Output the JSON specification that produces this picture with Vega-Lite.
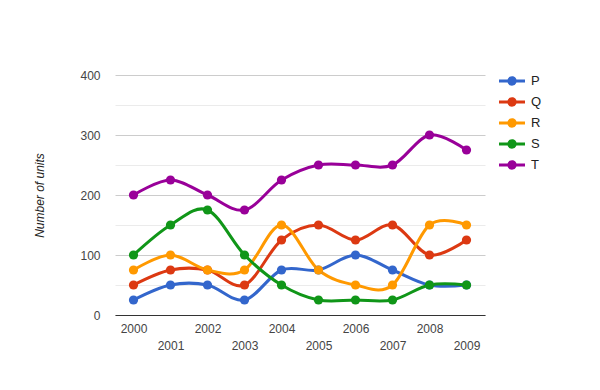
{
  "$schema": "https://vega.github.io/schema/vega-lite/v6.json",
  "width": 370,
  "height": 240,
  "autosize": {"type": "none"},
  "padding": {"left": 115, "top": 75, "right": 115, "bottom": 75},
  "background": "white",
  "data": {"values": [
    {"year": 2000, "series": "P", "units": 25},
    {"year": 2001, "series": "P", "units": 50},
    {"year": 2002, "series": "P", "units": 50},
    {"year": 2003, "series": "P", "units": 25},
    {"year": 2004, "series": "P", "units": 75},
    {"year": 2005, "series": "P", "units": 75},
    {"year": 2006, "series": "P", "units": 100},
    {"year": 2007, "series": "P", "units": 75},
    {"year": 2008, "series": "P", "units": 50},
    {"year": 2009, "series": "P", "units": 50},
    {"year": 2000, "series": "Q", "units": 50},
    {"year": 2001, "series": "Q", "units": 75},
    {"year": 2002, "series": "Q", "units": 75},
    {"year": 2003, "series": "Q", "units": 50},
    {"year": 2004, "series": "Q", "units": 125},
    {"year": 2005, "series": "Q", "units": 150},
    {"year": 2006, "series": "Q", "units": 125},
    {"year": 2007, "series": "Q", "units": 150},
    {"year": 2008, "series": "Q", "units": 100},
    {"year": 2009, "series": "Q", "units": 125},
    {"year": 2000, "series": "R", "units": 75},
    {"year": 2001, "series": "R", "units": 100},
    {"year": 2002, "series": "R", "units": 75},
    {"year": 2003, "series": "R", "units": 75},
    {"year": 2004, "series": "R", "units": 150},
    {"year": 2005, "series": "R", "units": 75},
    {"year": 2006, "series": "R", "units": 50},
    {"year": 2007, "series": "R", "units": 50},
    {"year": 2008, "series": "R", "units": 150},
    {"year": 2009, "series": "R", "units": 150},
    {"year": 2000, "series": "S", "units": 100},
    {"year": 2001, "series": "S", "units": 150},
    {"year": 2002, "series": "S", "units": 175},
    {"year": 2003, "series": "S", "units": 100},
    {"year": 2004, "series": "S", "units": 50},
    {"year": 2005, "series": "S", "units": 25},
    {"year": 2006, "series": "S", "units": 25},
    {"year": 2007, "series": "S", "units": 25},
    {"year": 2008, "series": "S", "units": 50},
    {"year": 2009, "series": "S", "units": 50},
    {"year": 2000, "series": "T", "units": 200},
    {"year": 2001, "series": "T", "units": 225},
    {"year": 2002, "series": "T", "units": 200},
    {"year": 2003, "series": "T", "units": 175},
    {"year": 2004, "series": "T", "units": 225},
    {"year": 2005, "series": "T", "units": 250},
    {"year": 2006, "series": "T", "units": 250},
    {"year": 2007, "series": "T", "units": 250},
    {"year": 2008, "series": "T", "units": 300},
    {"year": 2009, "series": "T", "units": 275}
  ]},
  "encoding": {
    "x": {
      "field": "year", "type": "ordinal",
      "scale": {"type": "point", "padding": 0.5},
      "axis": {
        "title": null, "labelAngle": 0, "labelOverlap": false,
        "ticks": false, "grid": false,
        "domainColor": "#333333", "domainWidth": 1,
        "labelFont": "Liberation Sans", "labelFontSize": 12, "labelColor": "#444444",
        "labelBaseline": "top",
        "labelPadding": {"condition": {"test": "datum.value % 2 === 1", "value": 25}, "value": 8}
      }
    },
    "y": {
      "field": "units", "type": "quantitative",
      "scale": {"domain": [0, 400], "nice": false},
      "axis": {
        "title": "Number of units",
        "titleFont": "Liberation Sans", "titleFontSize": 12, "titleFontStyle": "italic",
        "titleFontWeight": "normal", "titleColor": "#222222", "titlePadding": 33,
        "values": [0, 50, 100, 150, 200, 250, 300, 350, 400],
        "labelExpr": "datum.value % 100 === 0 ? datum.label : ''",
        "domain": false, "ticks": false, "labelPadding": 15,
        "labelFont": "Liberation Sans", "labelFontSize": 12, "labelColor": "#444444",
        "gridColor": {"condition": {"test": "datum.value % 100 === 0", "value": "#cccccc"}, "value": "#ebebeb"}
      }
    },
    "color": {
      "field": "series", "type": "nominal",
      "scale": {"domain": ["P", "Q", "R", "S", "T"], "range": ["#3366cc", "#dc3912", "#ff9900", "#109618", "#990099"]},
      "legend": {
        "title": null, "orient": "none", "legendX": 384, "legendY": -7,
        "symbolType": "M -1 -0.12 H 1 V 0.12 H -1 Z M 0.36 0 A 0.36 0.36 0 1 1 -0.36 0 A 0.36 0.36 0 1 1 0.36 0 Z",
        "symbolSize": 676, "symbolStrokeWidth": 0,
        "labelFont": "Liberation Sans", "labelFontSize": 13, "labelColor": "#222222",
        "rowPadding": 1, "labelOffset": 6, "padding": 0
      }
    }
  },
  "layer": [
    {"mark": {"type": "line", "interpolate": "cardinal", "strokeWidth": 3}},
    {"mark": {"type": "point", "filled": true, "size": 85, "opacity": 1}}
  ],
  "config": {"view": {"stroke": null}}
}
